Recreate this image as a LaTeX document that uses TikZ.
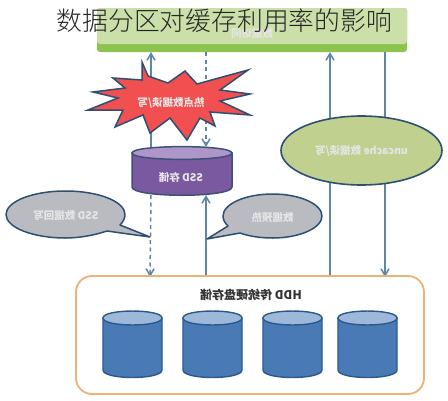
\documentclass[tikz,border=0pt]{standalone}
\usepackage{graphicx}
\usepackage{fontspec}
\newfontfamily\cjk{Noto Sans CJK SC}
\newfontfamily\cjklight{Noto Sans CJK SC Light}
\definecolor{barlight}{HTML}{CBDFA9}
\definecolor{bargreen}{HTML}{8CC24E}
\definecolor{flowblue}{HTML}{5F86A8}
\definecolor{darkedge}{HTML}{2F4F72}
\definecolor{burstred}{HTML}{F25050}
\definecolor{ssdpurple}{HTML}{7B59A0}
\definecolor{ssdtop}{HTML}{AE97C8}
\definecolor{ovalgreen}{HTML}{BFD08F}
\definecolor{calloutgrey}{HTML}{B9BBC0}
\definecolor{hddblue}{HTML}{4A7AB5}
\definecolor{hddtop}{HTML}{9DB8D9}
\definecolor{hddedge}{HTML}{2A5A8C}
\definecolor{frameorange}{HTML}{EDB278}
\usetikzlibrary{arrows.meta,positioning,shapes.geometric}
\newcommand{\mirror}[1]{\reflectbox{#1}}
\newcommand{\hddcan}[2]{%
  \path[fill=hddblue, draw=hddedge, line width=1.4pt] (#1-29.5,#2) -- (#1-29.5,#2+52)
    .. controls (#1-29.5,#2+62) and (#1+29.5,#2+62) .. (#1+29.5,#2+52)
    -- (#1+29.5,#2) -- cycle;
  \path[fill=hddtop, draw=hddedge, line width=1.4pt] (#1-29.5,#2)
    .. controls (#1-29.5,#2-9.3) and (#1+29.5,#2-9.3) .. (#1+29.5,#2)
    .. controls (#1+29.5,#2+9.3) and (#1-29.5,#2+9.3) .. (#1-29.5,#2) -- cycle;
}
\begin{document}
\begin{tikzpicture}[x=1pt, y=-1pt,
  lbl/.style={font=\cjk\bfseries\fontsize{10.5}{12}\selectfont, text=white!90!black, inner sep=0pt},
  flow/.style={-{Straight Barb[length=2.4mm, width=2.8mm]}, flowblue, line width=1.5pt},
  dashflow/.style={flow, dash pattern=on 4pt off 3.5pt}]
\useasboundingbox (0,0) rectangle (448,400);
\fill[white] (0,0) rectangle (448,400);
% top bar
\fill[bargreen, rounded corners=3pt] (97,8) rectangle (407,52);
\fill[barlight, rounded corners=3pt] (97,8) rectangle (407,44);
\fill[barlight] (97,30) rectangle (407,40);
\node[lbl] (bar) at (252,33) {\mirror{数据访问}};
\coordinate (barA) at (151,52);
\coordinate (barB) at (206,52);
\coordinate (barC) at (330,52);
\coordinate (barD) at (385,52);
% connectors behind the shapes
\coordinate (frameA) at (150,277);
\coordinate (frameB) at (206,277);
\coordinate (frameC) at (330,277);
\coordinate (frameD) at (385,277);
\coordinate (ssdA) at (151,150);
\coordinate (ssdB) at (206,147);
\coordinate (ssdC) at (151,195);
\coordinate (ssdD) at (206,195);
\draw[flow] (ssdA) -- (barA);
\draw[dashflow] (barB) -- (ssdB);
\draw[dashflow] (ssdC) -- (frameA);
\draw[flow] (frameB) -- (ssdD);
\draw[flow] (frameC) -- (barC);
\draw[flow] (barD) -- (frameD);
% hot spot burst
\draw[fill=burstred, draw=darkedge, line width=1.5pt, line join=miter]
  (142,62) -- (148,76) -- (168,83) -- (185,71) -- (197,84) -- (248,70) -- (220,90)
  -- (250,94) -- (220,101) -- (250,115) -- (210,112) -- (215,126) -- (200,118)
  -- (187,140) -- (170,118) -- (150,133) -- (143,115) -- (115,127) -- (123,110)
  -- (88,110) -- (118,98) -- (93,92) -- (125,88) -- (113,78) -- (142,80) -- cycle;
\node[lbl] (hot) at (171,103) {\mirror{热点数据读/写}};
% ssd
\path[fill=ssdpurple, draw=darkedge!80!ssdpurple, line width=1.5pt] (132,153) -- (132,187)
  .. controls (132,198) and (232,198) .. (232,187) -- (232,153) -- cycle;
\path[fill=ssdtop, draw=darkedge!80!ssdpurple, line width=1.5pt] (132,153)
  .. controls (132,144.5) and (232,144.5) .. (232,153)
  .. controls (232,161.5) and (132,161.5) .. (132,153) -- cycle;
\node[lbl] (ssd) at (181,177) {\mirror{SSD 存储}};
% uncache oval
\node[draw=darkedge, fill=ovalgreen, line width=1.6pt, ellipse, minimum width=161pt,
  minimum height=69pt, lbl] (oval) at (361.5,150.5) {\mirror{uncache 数据读/写}};
% callouts
\draw[fill=calloutgrey, draw=darkedge, line width=1.5pt, line join=round] (120,225) -- (150,237) -- (107,231)
  .. controls (95,235) and (80,238) .. (65.5,238)
  .. controls (32.6,238) and (6,227.4) .. (6,214.5)
  .. controls (6,201.5) and (32.6,191) .. (65.5,191)
  .. controls (98.4,191) and (125,201.5) .. (125,214.5)
  .. controls (125,218.5) and (123,222) .. (120,225) -- cycle;
\node[lbl] (back) at (66,216) {\mirror{SSD 数据回写}};
\draw[fill=calloutgrey, draw=darkedge, line width=1.5pt, line join=round] (228,226) -- (207,239) -- (240,233)
  .. controls (250,236.5) and (261,238) .. (272.5,238)
  .. controls (299.7,238) and (322,228) .. (322,216)
  .. controls (322,204) and (299.7,194) .. (272.5,194)
  .. controls (245.3,194) and (223,204) .. (223,216)
  .. controls (223,220) and (225,223) .. (228,226) -- cycle;
\node[lbl] (warm) at (272.5,218) {\mirror{数据预热}};
% hdd frame
\node[draw=frameorange, line width=1.8pt, rounded corners=16pt, minimum width=348pt,
  minimum height=118pt, inner sep=0pt] (frame) at (250,335) {};
\node[lbl, text=black!80, font=\cjk\bfseries\fontsize{12}{14}\selectfont] (hdd) at (251,295) {\mirror{HDD 传统硬盘存储}};
\hddcan{132.5}{318}
\hddcan{212.5}{318}
\hddcan{292.5}{318}
\hddcan{367.5}{318}
% title
\node[font=\cjklight\fontsize{25.8}{28}\selectfont, text=black!85, inner sep=0pt] (title) at (224.5,21) {数据分区对缓存利用率的影响};
\end{tikzpicture}
\end{document}
